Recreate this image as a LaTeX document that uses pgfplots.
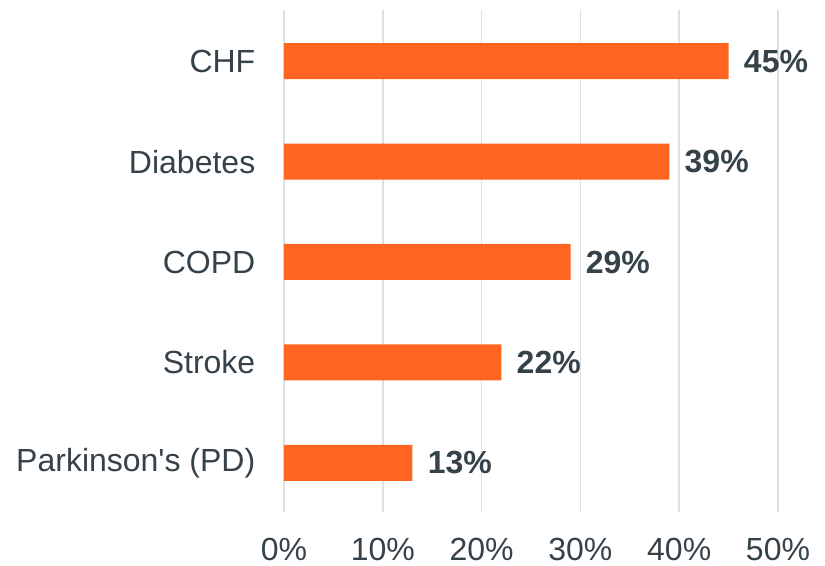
\documentclass[border=0pt]{standalone}
\usepackage{pgfplots}
\pgfplotsset{compat=1.18}
\usepackage{fontspec}
\setmainfont{Liberation Sans}
\definecolor{barc}{HTML}{FF6420}
\definecolor{txt}{HTML}{36424A}
\definecolor{gridc}{HTML}{DDE1E6}
\begin{document}
\begin{tikzpicture}
\useasboundingbox (-213pt,-40.5pt) rectangle (405.75pt,384pt);
\begin{axis}[
  at={(0,0)}, anchor=south west,
  scale only axis,
  width=370.5pt, height=376.5pt,
  xbar, bar width=27pt, bar shift=0pt,
  xmin=0, xmax=50,
  ymin=-0.49, ymax=4.51,
  axis line style={draw=none},
  major tick length=0pt,
  /pgf/number format/assume math mode=true,
  xtick={0,10,20,30,40,50},
  xticklabels={0\%,10\%,20\%,30\%,40\%,50\%},
  ytick={0,1,2,3,4},
  yticklabels={Parkinson\textquotesingle s (PD),Stroke,COPD,Diabetes,CHF},
  xmajorgrids=true,
  grid style={draw=gridc, line width=1.3pt},
  ticklabel style={font=\fontsize{24}{28}\selectfont, text=txt},
  xticklabel style={yshift=-16pt},
  yticklabel style={xshift=-18pt},
  nodes near coords={\pgfmathprintnumber{\pgfplotspointmeta}\%},
  nodes near coords style={font=\bfseries\fontsize{24}{28}\selectfont, text=txt, anchor=west, xshift=8pt},
  clip=false,
]
\addplot[fill=barc, draw=none] coordinates {(45,4) (39,3) (29,2) (22,1) (13,0)};
\end{axis}
\end{tikzpicture}
\end{document}
